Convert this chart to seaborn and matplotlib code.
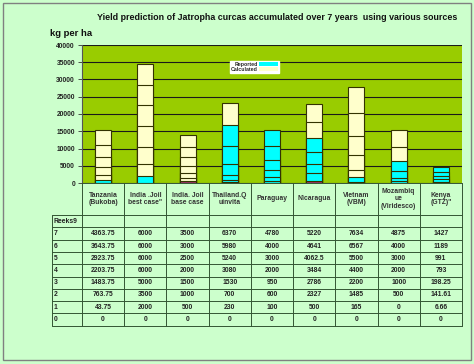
import matplotlib
matplotlib.use("Agg")
import matplotlib.pyplot as plt
import seaborn as sns
import numpy as np
import pandas as pd
from matplotlib.patches import Patch, Rectangle
from matplotlib.lines import Line2D

categories = ["Tanzania\n(Bukoba)", "India .Joil\nbest case\"", "India. Joil\nbase case",
              "Thailand.Q\nuinvita", "Paraguay", "Nicaragua", "Vietnam\n(VBM)",
              "Mozambiq\nue\n(Viridesco)", "Kenya\n(GTZ)\""]
series_names = ["7", "6", "5", "4", "3", "2", "1", "0"]
s7 = [4363.75, 6000, 3500, 6370, 4780, 5220, 7634, 4875, 1427]
s6 = [3643.75, 6000, 3000, 5980, 4000, 4641, 6567, 4000, 1189]
s5 = [2923.75, 6000, 2500, 5240, 3000, 4062.5, 5500, 3000, 991]
s4 = [2203.75, 6000, 2000, 3080, 2000, 3484, 4400, 2000, 793]
s3 = [1483.75, 5000, 1500, 1530, 950, 2786, 2200, 1000, 198.25]
s2 = [763.75, 3500, 1000, 700, 600, 2327, 1485, 500, 141.61]
s1 = [43.75, 2000, 500, 230, 100, 500, 165, 0, 6.66]
s0 = [0, 0, 0, 0, 0, 0, 0, 0, 0]
value_text = {
    "7": ["4363.75", "6000", "3500", "6370", "4780", "5220", "7634", "4875", "1427"],
    "6": ["3643.75", "6000", "3000", "5980", "4000", "4641", "6567", "4000", "1189"],
    "5": ["2923.75", "6000", "2500", "5240", "3000", "4062.5", "5500", "3000", "991"],
    "4": ["2203.75", "6000", "2000", "3080", "2000", "3484", "4400", "2000", "793"],
    "3": ["1483.75", "5000", "1500", "1530", "950", "2786", "2200", "1000", "198.25"],
    "2": ["763.75", "3500", "1000", "700", "600", "2327", "1485", "500", "141.61"],
    "1": ["43.75", "2000", "500", "230", "100", "500", "165", "0", "6.66"],
    "0": ["0"] * 9,
}
# number of lowest segments (1..7) that are "Reported"
reported_n = [2, 1, 0, 6, 7, 5, 2, 5, 7]
purple_first = [False, False, True, False, False, True, False, False, False]
yticks = [0, 5000, 10000, 15000, 20000, 25000, 30000, 35000, 40000]

CYAN = "#00FFFF"
CREAM = "#FFFFCC"
PURPLE = "#993366"
BG = "#CCFFCC"
PLOT_BG = "#99CC00"

W, H = 474, 364
sns.set_style("white")
plt.rcParams["font.family"] = ["Liberation Sans", "DejaVu Sans"]
fig = plt.figure(figsize=(W / 100, H / 100), dpi=100)
fig.patch.set_facecolor(BG)

def fx(x):
    return x / W

def fy(y):
    return 1 - y / H

fig.add_artist(Rectangle((fx(3), fy(360)), 468 / W, 357 / H, transform=fig.transFigure,
                         facecolor="none", edgecolor="#808080", linewidth=1.0, zorder=5))

left, right, top, bottom = 82, 462, 45, 183
ax = fig.add_axes([fx(left), fy(bottom), (right - left) / W, (bottom - top) / H])
ax.set_facecolor(PLOT_BG)

segs = [s1, s2, s3, s4, s5, s6, s7]  # bottom to top
cum = np.cumsum(np.array(segs), axis=0)
for k in range(6, -1, -1):
    cols = []
    for i in range(len(categories)):
        if k == 0 and purple_first[i]:
            cols.append(PURPLE)
        elif k < reported_n[i]:
            cols.append(CYAN)
        else:
            cols.append(CREAM)
    df = pd.DataFrame({"cat": categories, "val": cum[k]})
    sns.barplot(data=df, x="cat", y="val", hue="cat", palette=cols, legend=False,
                width=0.38, edgecolor="#333300", linewidth=0.8, ax=ax, zorder=3,
                saturation=1)

ax.set_ylim(0, 40000)
ax.set_xlim(-0.5, len(categories) - 0.5)
ax.set_yticks(yticks)
ax.set_yticklabels([str(t) for t in yticks], fontsize=4.8, fontweight="bold", color="#222222")
ax.tick_params(axis="y", length=3, width=0.6, color="#333333", pad=2, left=True)
ax.set_xticks([])
ax.set_xlabel("")
ax.set_ylabel("")
ax.yaxis.grid(True, color="#1a1a1a", linewidth=0.8, zorder=1)
ax.set_axisbelow(True)
for s in ["top", "right", "bottom"]:
    ax.spines[s].set_visible(False)
ax.spines["left"].set_color("#555555")
ax.spines["left"].set_linewidth(0.8)

handles = [Patch(facecolor=CYAN, edgecolor="none", label="Reported"),
           Patch(facecolor=CREAM, edgecolor="none", label="Calculated")]
leg = ax.legend(handles=handles, loc="upper left",
                bbox_to_anchor=((230 - left) / (right - left), (bottom - 61) / (bottom - top)),
                fontsize=3.8, markerfirst=False, handlelength=3.6, handleheight=0.9,
                handletextpad=0.3, labelspacing=0.0, borderpad=0.15, borderaxespad=0,
                frameon=True, fancybox=False)
leg.get_frame().set_facecolor("white")
leg.get_frame().set_edgecolor("white")
leg.get_frame().set_alpha(1)
for t in leg.get_texts():
    t.set_fontweight("bold")

# Title and y label
fig.text(fx(277), fy(18), "Yield prediction of Jatropha curcas accumulated over 7 years  using various sources",
         ha="center", va="center", fontsize=6.4, fontweight="bold", color="#111111")
fig.text(fx(50), fy(33), "kg per ha", ha="left", va="center", fontsize=6.8,
         fontweight="bold", color="#111111")

# Data table
LC = "#335533"
col_w = (right - left) / len(categories)
col_x = [left + i * col_w for i in range(len(categories) + 1)]
row_y = [215, 227.3, 240, 252.3, 264.3, 276.7, 289, 301, 313.3, 325.7]
row_labels = ["Reeks9"] + series_names
lab_left = 52

def hline(x0, x1, y):
    fig.add_artist(Line2D([fx(x0), fx(x1)], [fy(y), fy(y)], color=LC, linewidth=0.7,
                          transform=fig.transFigure))

def vline(x, y0, y1):
    fig.add_artist(Line2D([fx(x), fx(x)], [fy(y0), fy(y1)], color=LC, linewidth=0.7,
                          transform=fig.transFigure))

hline(left, right, bottom)
for y in row_y:
    hline(lab_left, right, y)
for x in col_x:
    vline(x, bottom, row_y[-1])
vline(lab_left, row_y[0], row_y[-1])

for i, c in enumerate(categories):
    cx = (col_x[i] + col_x[i + 1]) / 2
    fig.text(fx(cx), fy((bottom + row_y[0]) / 2), c, ha="center", va="center",
             fontsize=4.9, fontweight="bold", color="#333333", linespacing=1.15)

for r, lab in enumerate(row_labels):
    yc = (row_y[r] + row_y[r + 1]) / 2
    fig.text(fx(lab_left + 2), fy(yc), lab, ha="left", va="center", fontsize=4.9,
             fontweight="bold", color="#222222")
    if lab in value_text:
        for i, v in enumerate(value_text[lab]):
            cx = (col_x[i] + col_x[i + 1]) / 2
            fig.text(fx(cx), fy(yc), v, ha="center", va="center", fontsize=4.9,
                     fontweight="bold", color="#222222")

fig.savefig("out.png", dpi=100, facecolor=BG)
